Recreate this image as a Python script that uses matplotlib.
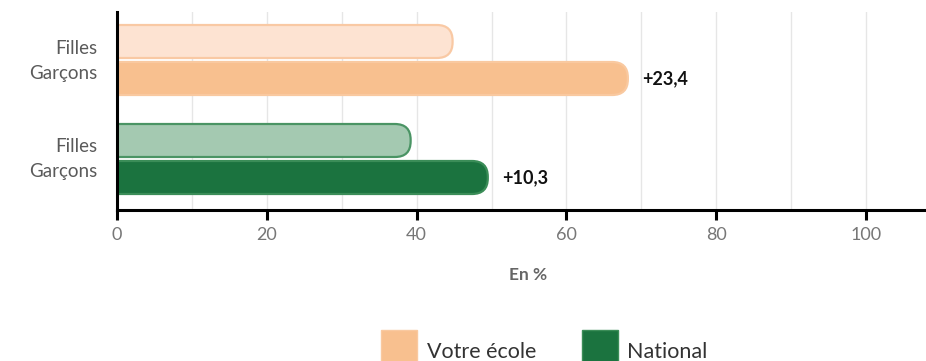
import matplotlib.pyplot as plt
from matplotlib.patches import FancyBboxPatch, Rectangle

# Share of pupils (%), by group
groups = ["Votre école", "National"]
filles = [44.8, 39.2]
garcons = [68.2, 49.5]
tick_values = [0, 20, 40, 60, 80, 100]
row_labels = ["Filles", "Garçons"]

light_fill = ["#fde3d2", "#a4c9b1"]
light_edge = ["#f9c9a4", "#4a9464"]
dark_fill = ["#f8c08f", "#1b733f"]
dark_edge = ["#f9c9a0", "#3b8d58"]

plt.rcParams['font.family'] = ['Lato', 'DejaVu Sans']

W, H = 926, 361
fig = plt.figure(figsize=(W / 100, H / 100), dpi=100)
ax = fig.add_axes([117 / W, 151 / H, 809 / W, 198 / H])
ax.set_xlim(0, 108)
ax.set_ylim(0, 198)

centers = [150, 51]
offset = 18.5
bar_h = 33
px_per_unit = 809 / 108
aspect = px_per_unit  # y units are pixels


def rounded_bar(y, value, fc, ec):
    p = FancyBboxPatch((-6, y - bar_h / 2), value + 6, bar_h,
                       boxstyle="round,pad=0,rounding_size=2.1",
                       mutation_aspect=aspect, fc=fc, ec=ec, lw=1.6,
                       zorder=3, clip_on=True)
    ax.add_patch(p)


for i, c in enumerate(centers):
    rounded_bar(c + offset, filles[i], light_fill[i], light_edge[i])
    rounded_bar(c - offset, garcons[i], dark_fill[i], dark_edge[i])
    diff = garcons[i] - filles[i]
    ax.text(garcons[i] + 1.9, c - offset, "+" + f"{diff:.1f}".replace(".", ","),
            ha="left", va="center", fontsize=13, fontweight="bold",
            color="#111111")
    ax.text(-2.6, c + 12, row_labels[0], ha="right", va="center",
            fontsize=13.5, color="#5a5a5a")
    ax.text(-2.6, c - 13, row_labels[1], ha="right", va="center",
            fontsize=13.5, color="#5a5a5a")

# grid every 10
for g in range(10, 110, 10):
    ax.axvline(g, color="#e6e6e6", lw=1, zorder=0)

for s in ["top", "right"]:
    ax.spines[s].set_visible(False)
ax.spines["left"].set_linewidth(2.2)
ax.spines["bottom"].set_linewidth(2.2)
ax.spines["left"].set_zorder(4)

ax.set_yticks([])
ax.set_xticks(tick_values)
ax.tick_params(axis="x", length=7, width=2.2, color="black",
               labelsize=13, labelcolor="#777777", pad=5)

ax.text(54.9, -65, "En %", ha="center", va="center", fontsize=12.5,
        fontweight="bold", color="#666666", clip_on=False)

# legend drawn in figure pixels
legend_items = [(381, 427), (582, 627)]
for (sq_x, tx_x), label, fc, ec in zip(legend_items, groups, dark_fill, dark_edge):
    fig.patches.append(Rectangle((sq_x / W, -5 / H), 36 / W, 36 / H,
                                 transform=fig.transFigure, fc=fc, ec=ec,
                                 lw=1))
    fig.text(tx_x / W, 9 / H, label, ha="left", va="center", fontsize=15.5,
             color="#333333")

fig.savefig("out.png", dpi=100)
